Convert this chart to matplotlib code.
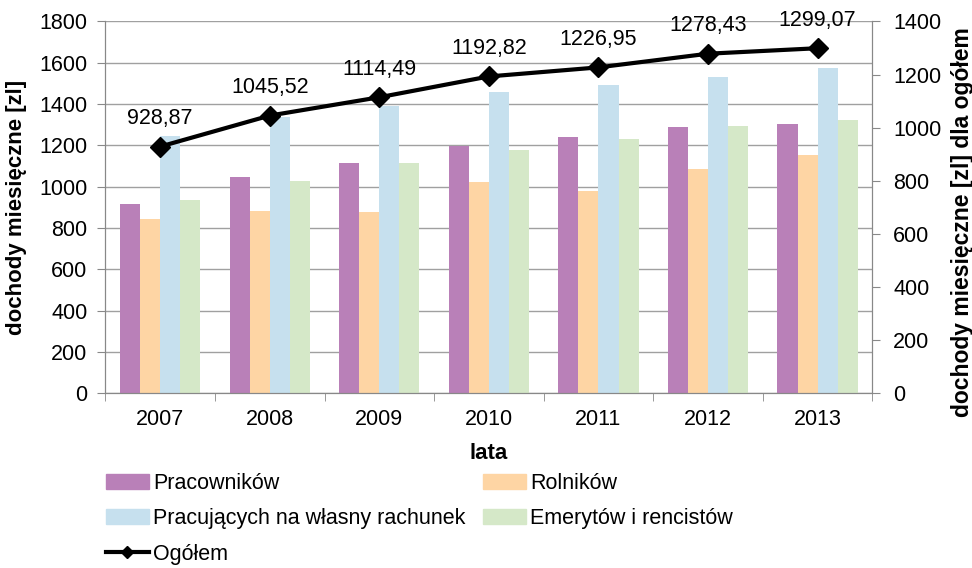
import numpy as np
import matplotlib.pyplot as plt
from matplotlib.lines import Line2D
from matplotlib.patches import Patch

plt.rcParams['font.family'] = ['Liberation Sans', 'DejaVu Sans']

# dane
lata = ['2007', '2008', '2009', '2010', '2011', '2012', '2013']
pracownikow = [915, 1047, 1117, 1197, 1241, 1288, 1303]
rolnikow = [842, 882, 878, 1021, 979, 1086, 1153]
na_wlasny = [1245, 1338, 1391, 1458, 1492, 1532, 1573]
emerytow = [936, 1028, 1115, 1178, 1231, 1292, 1323]
ogolem = [928.87, 1045.52, 1114.49, 1192.82, 1226.95, 1278.43, 1299.07]

serie = [
    ('Pracowników', pracownikow, '#B980B8'),
    ('Rolników', rolnikow, '#FED5A4'),
    ('Pracujących na własny rachunek', na_wlasny, '#C6E0EE'),
    ('Emerytów i rencistów', emerytow, '#D5E8C8'),
]

FS = 15.5

fig = plt.figure(figsize=(9.72, 5.68), dpi=100)
ax = fig.add_axes([0.1085, 0.3076, 0.789, 0.6547])
ax2 = ax.twinx()

x = np.arange(len(lata))
w = 0.183
for i, (nazwa, vals, kol) in enumerate(serie):
    ax.bar(x + (i - 1.5) * w, vals, width=w, color=kol, zorder=2)

ax.set_xlim(-0.5, len(lata) - 0.5)
ax.set_ylim(0, 1800)
ax.set_yticks(range(0, 1801, 200))
ax.set_xticks(x)
ax.set_xticklabels(lata)
ax.set_xticks(np.arange(-0.5, len(lata), 1.0), minor=True)
ax.tick_params(axis='x', which='major', length=0, labelsize=FS, pad=11)
ax.tick_params(axis='x', which='minor', length=6, color='#888888', direction='out')
ax.tick_params(axis='y', labelsize=FS, length=6, color='#888888', pad=7)
ax.grid(axis='y', color='#a0a0a0', lw=1, zorder=0)
ax.set_axisbelow(True)
ax.spines['top'].set_visible(False)
ax2.spines['top'].set_visible(False)
for s in ['left', 'bottom', 'right']:
    ax.spines[s].set_color('#888888')
    ax2.spines[s].set_color('#888888')
ax.set_ylabel('dochody miesięczne [zl]', fontsize=16, fontweight='bold')
ax.yaxis.set_label_coords(-0.102, 0.5)
ax.set_xlabel('lata', fontsize=16, fontweight='bold', labelpad=10)

ax2.plot(x, ogolem, color='black', lw=3, marker='D', markersize=10, zorder=5)
ax2.set_ylim(0, 1400)
ax2.set_yticks(range(0, 1401, 200))
ax2.tick_params(axis='y', labelsize=FS, length=6, color='#888888', pad=9)
ax2.set_ylabel('dochody miesięczne [zl] dla ogółem', fontsize=16.5, fontweight='bold')
ax2.yaxis.set_label_coords(1.102, 0.46)
for xi, v in zip(x, ogolem):
    ax2.annotate(f'{v:.2f}'.replace('.', ','), (xi, v), xytext=(0, 16),
                 textcoords='offset points', ha='center', va='baseline', fontsize=FS)

handles = [
    Patch(color=serie[0][2], label=serie[0][0]),
    Patch(color=serie[2][2], label=serie[2][0]),
    Line2D([], [], color='black', lw=3, marker='D', markersize=6, label='Ogółem'),
    Patch(color=serie[1][2], label=serie[1][0]),
    Patch(color=serie[3][2], label=serie[3][0]),
]
fig.legend(handles=handles, ncol=2, loc='upper left', bbox_to_anchor=(0.109, 0.168),
           frameon=False, fontsize=FS, handlelength=2.0, handletextpad=0.2,
           columnspacing=0.8, labelspacing=0.68, borderaxespad=0, borderpad=0)

fig.savefig('out.png', dpi=100)
